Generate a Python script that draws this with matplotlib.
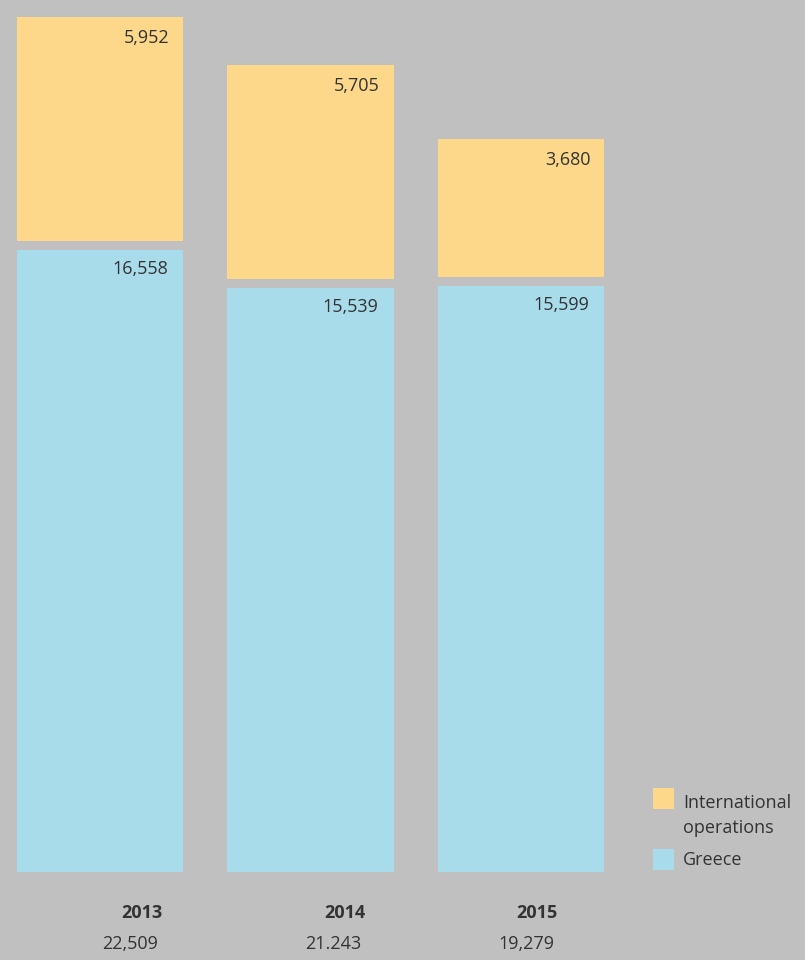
import matplotlib.pyplot as plt
from matplotlib.patches import Rectangle

# values per year (Greece at the bottom, international stacked on top)
years = ['2013', '2014', '2015']
greece = [16558, 15539, 15599]
international = [5952, 5705, 3680]
totals = ['22,509', '21.243', '19,279']

bg = '#c0c0c0'
col_int = '#fdd88a'
col_gr = '#a8dcea'
txt = '#333333'
font = ['Open Sans', 'DejaVu Sans']
fs = 13

fig = plt.figure(figsize=(8.05, 9.6), dpi=100, facecolor=bg)
ax = fig.add_axes([0, 88 / 960, 1, 872 / 960])
ax.set_facecolor(bg)

x = [0, 1, 2]
w = 0.79
gap = 230  # space between the two segments

ax.bar(x, greece, width=w, color=col_gr, linewidth=0)
ax.bar(x, international, width=w, bottom=[g + gap for g in greece],
       color=col_int, linewidth=0)

for i in x:
    ax.annotate(f'{greece[i]:,}', (i + w / 2, greece[i]),
                xytext=(-11, -14), textcoords='offset points',
                ha='right', va='center', fontsize=fs, color=txt, family=font)
    top = greece[i] + gap + international[i]
    ax.annotate(f'{international[i]:,}', (i + w / 2, top),
                xytext=(-10, -15), textcoords='offset points',
                ha='right', va='center', fontsize=fs, color=txt, family=font)

ax.set_xlim(-100 / 210.5, 705 / 210.5)
ax.set_ylim(0, 23200)
ax.axis('off')

# year labels and totals below the bars
year_x = [142, 345, 537]
tot_x = [130, 333, 526]
for i in x:
    fig.text(year_x[i] / 805, 1 - 913 / 960, years[i], ha='center', va='center',
             fontsize=fs, fontweight='bold', color=txt, family=font)
    fig.text(tot_x[i] / 805, 1 - 944 / 960, totals[i], ha='center', va='center',
             fontsize=fs, color=txt, family=font)

# legend
for y0, c in [(788, col_int), (849, col_gr)]:
    fig.patches.append(Rectangle((653 / 805, 1 - (y0 + 21) / 960), 21 / 805, 21 / 960,
                                 transform=fig.transFigure, color=c, linewidth=0))
fig.text(683 / 805, 1 - 803 / 960, 'International', ha='left', va='center',
         fontsize=fs, color=txt, family=font)
fig.text(683 / 805, 1 - 828 / 960, 'operations', ha='left', va='center',
         fontsize=fs, color=txt, family=font)
fig.text(683 / 805, 1 - 860 / 960, 'Greece', ha='left', va='center',
         fontsize=fs, color=txt, family=font)

fig.savefig('out.png', dpi=100, facecolor=bg)
